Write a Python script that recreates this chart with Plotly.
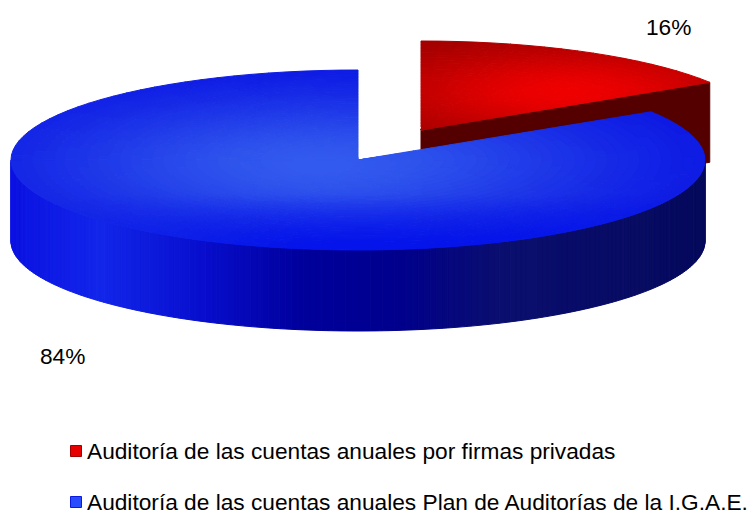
import math
import plotly.graph_objects as go

# ---- data ----
categories = ["Auditoría de las cuentas anuales por firmas privadas",
              "Auditoría de las cuentas anuales Plan de Auditorías de la I.G.A.E."]
values = [16, 84]
value_labels = ["16%", "84%"]

# ---- 3D projection ----
W, H = 751, 516
RX, RY, DEPTH = 347.0, 90.0, 81.0
BLUE_C = (358.0, 160.0)
RED_C = (421.0, 130.0)
RED_DEPTH = 80.0
split = 360.0 * values[0] / sum(values)

def pt(c, ang, r=1.0, rx=RX, ry=RY):
    a = math.radians(ang)
    return c[0] + rx * r * math.sin(a), c[1] - ry * r * math.cos(a)

def lerp(a, b, t):
    return tuple(a[i] + (b[i] - a[i]) * t for i in range(3))

def stops(table, x):
    if x <= table[0][0]:
        return table[0][1]
    for (x0, c0), (x1, c1) in zip(table, table[1:]):
        if x <= x1:
            return lerp(c0, c1, (x - x0) / (x1 - x0))
    return table[-1][1]

def blue_face(x, y):
    u = (x - 320) / 347.0
    v = (y - 165) / 90.0
    d = u * u + 1.1 * v * v
    t = math.exp(-d / 0.7)
    c = lerp((6, 14, 226), (50, 90, 238), t)
    # the front rim turns saturated again, matching the wall on the left
    f = max(0.0, min(1.0, (y - 195) / 50.0))
    rim = lerp((16, 36, 232), (4, 20, 234), max(0.0, min(1.0, (x - 100) / 200.0)))
    return lerp(c, rim, f)

def red_face(x, y):
    u = (x - 570) / 170.0
    v = (y - 92) / 42.0
    t = math.exp(-(u * u + v * v) / 1.1)
    return lerp((150, 0, 0), (238, 0, 0), t)

BLUE_WALL = [(12, (12, 18, 226)), (100, (18, 38, 234)), (200, (8, 14, 206)),
             (300, (0, 0, 156)), (400, (0, 0, 140)), (500, (10, 14, 110)),
             (705, (6, 10, 92))]

buckets = {}
order = []

def add_poly(pts, rgb, layer):
    key = (layer, tuple(int(round(v / 2.0) * 2) for v in rgb))
    if key not in buckets:
        buckets[key] = ([], [])
        order.append(key)
    xs, ys = buckets[key]
    for p in list(pts) + [pts[0]]:
        xs.append(p[0]); ys.append(p[1])
    xs.append(None); ys.append(None)

def angles(a0, a1, step=3.0):
    n = max(2, int(round((a1 - a0) / step)))
    return [a0 + (a1 - a0) * i / n for i in range(n + 1)]

def face(c, a0, a1, fn, layer, rings=32, rx=RX, ry=RY):
    angs = angles(a0, a1)
    for i in range(rings):
        r0, r1 = i / rings, (i + 1) / rings
        for a, b in zip(angs, angs[1:]):
            q = [pt(c, a, r0, rx, ry), pt(c, b, r0, rx, ry), pt(c, b, r1, rx, ry), pt(c, a, r1, rx, ry)]
            mx = sum(p[0] for p in q) / 4
            my = sum(p[1] for p in q) / 4
            add_poly(q, fn(mx, my), layer)

def wall(c, a0, a1, depth, fn, layer, rx=RX, ry=RY):
    angs = angles(a0, a1, 1.0)
    for a, b in zip(angs, angs[1:]):
        p, q = pt(c, a, 1, rx, ry), pt(c, b, 1, rx, ry)
        q2 = [p, q, (q[0], q[1] + depth), (p[0], p[1] + depth)]
        add_poly(q2, fn((p[0] + q[0]) / 2), layer)

RED_RX, RED_RY = 342.0, 89.0
corner = pt(RED_C, split, 1, RED_RX, RED_RY)
# red cut face, then red top, then blue wall and blue top
add_poly([RED_C, corner, (corner[0], corner[1] + RED_DEPTH), (RED_C[0], RED_C[1] + RED_DEPTH)], (84, 0, 0), 0)
face(RED_C, 0, split, red_face, 1, rx=RED_RX, ry=RED_RY)
wall(BLUE_C, 90, 270, DEPTH, lambda x: stops(BLUE_WALL, x), 2)
face(BLUE_C, split, 360, blue_face, 3)

fig = go.Figure()
for key in sorted(order, key=lambda k: k[0]):
    xs, ys = buckets[key]
    col = "rgb(%d,%d,%d)" % key[1]
    fig.add_trace(go.Scatter(x=xs, y=ys, mode="lines", fill="toself", fillcolor=col,
                             line=dict(color=col, width=1), hoverinfo="skip", showlegend=False))

# legend keys
key_x = 76
key_y = [451, 502]
key_fill = ["#e60000", "#2a4cff"]
key_edge = ["#a00000", "#0a1ae0"]
for i in range(2):
    fig.add_trace(go.Scatter(x=[key_x], y=[key_y[i]], mode="markers", name=categories[i],
                             marker=dict(symbol="square", size=11, color=key_fill[i],
                                         line=dict(color=key_edge[i], width=1)),
                             hoverinfo="skip", showlegend=False))

FONT = "Liberation Sans"
FS = 22.7
ann = []
for i, (lx, ly) in enumerate([(668, 27), (62, 356)]):
    ann.append(dict(x=lx, y=ly, text=value_labels[i], showarrow=False, xanchor="center", yanchor="middle",
                    font=dict(family=FONT, size=FS, color="#000000")))
for i in range(2):
    ann.append(dict(x=85, y=key_y[i], text=categories[i], showarrow=False, xanchor="left", yanchor="middle",
                    font=dict(family=FONT, size=FS, color="#000000")))

fig.update_layout(width=W, height=H, margin=dict(l=0, r=0, t=0, b=0), paper_bgcolor="white",
                  plot_bgcolor="white", annotations=ann, showlegend=False,
                  xaxis=dict(range=[0, W], visible=False, fixedrange=True),
                  yaxis=dict(range=[H, 0], visible=False, fixedrange=True))
fig.write_html("out.html", config=dict(displayModeBar=False),
               post_script="document.body.style.margin='0';document.body.style.overflow='hidden';")
